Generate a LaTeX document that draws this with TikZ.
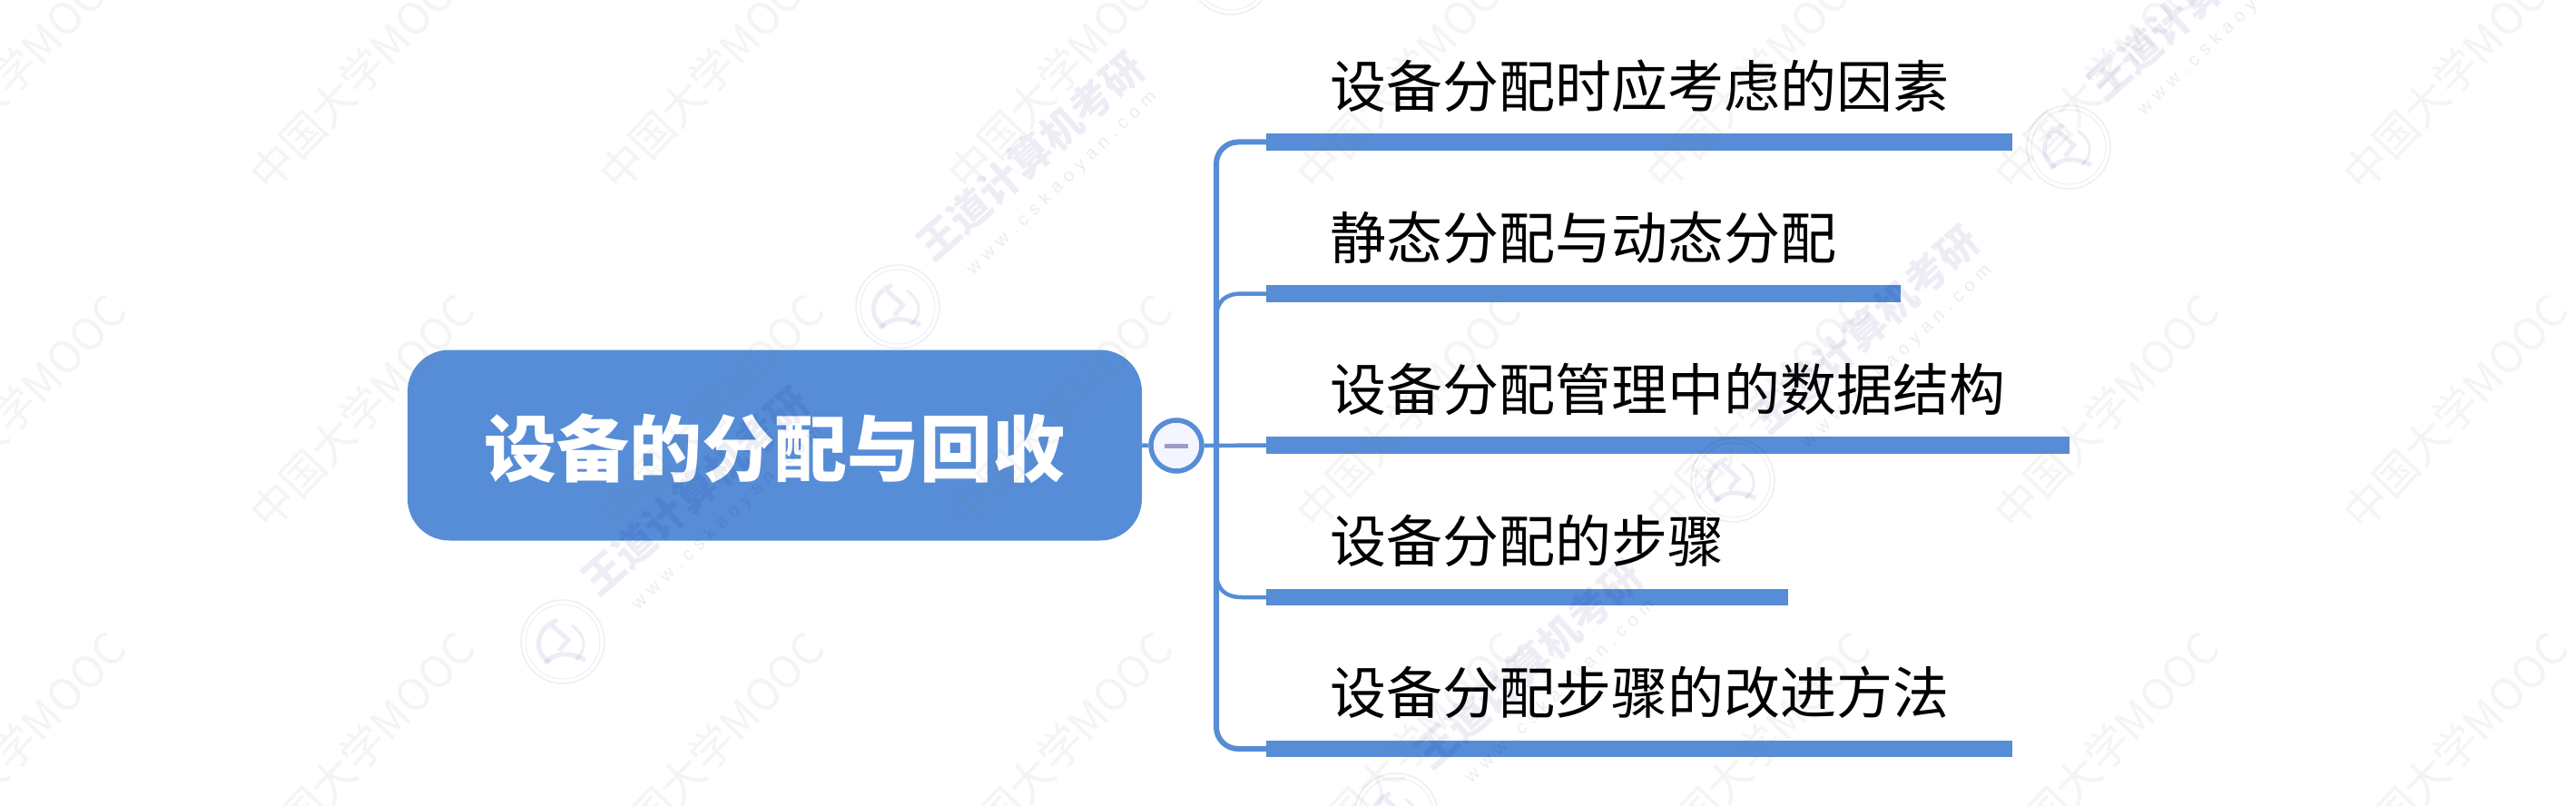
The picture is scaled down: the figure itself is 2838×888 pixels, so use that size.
\documentclass[tikz,border=0pt]{standalone}
\usepackage{fontspec}
\setmainfont{Noto Sans CJK SC}
\newfontfamily\wmlatin{Liberation Sans}
\usetikzlibrary{calc}
\definecolor{mapblue}{HTML}{568DD6}
\tikzset{
  x=1pt,y=-1pt,
  rootbox/.style={fill=mapblue,rounded corners=46pt,minimum width=809pt,minimum height=210pt,inner sep=0pt},
  rootlabel/.style={inner sep=0pt,text=white,font=\fontsize{80pt}{80pt}\selectfont\bfseries},
  topiclabel/.style={anchor=west,inner sep=0pt,text=black,font=\fontsize{62pt}{62pt}\selectfont},
  topicbar/.style={anchor=west,fill=mapblue,minimum height=18.5pt,inner sep=0pt},
  link/.style={draw=mapblue,line width=4.5pt},
  trunkline/.style={draw=mapblue,line width=6pt,rounded corners=24pt},
  collapser/.style={circle,draw=mapblue,line width=5.5pt,fill=white!96!blue,minimum size=56pt,inner sep=0pt},
  minusbar/.style={draw=blue!30!gray!60!white,line width=5pt},
  moocmark/.style={rotate=46.5,inner sep=0pt,text=gray,opacity=.085,font=\fontsize{48pt}{48pt}\selectfont},
  brandmark/.style={rotate=41.7,inner sep=0pt,text=blue!50!black,opacity=.07,font=\fontsize{45pt}{45pt}\selectfont\bfseries},
  urlmark/.style={rotate=44,inner sep=0pt,text=blue!50!black,opacity=.08,font=\fontsize{20pt}{20pt}\selectfont\wmlatin},
  sealline/.style={draw=blue!50!black,draw opacity=.07},
}
\begin{document}
\begin{tikzpicture}
\useasboundingbox (0,0) rectangle (2838,888);
\fill[white] (0,0) rectangle (2838,888);

% root and collapse control
\node[rootbox] (root) at (853.5,490.5) {};
\node[rootlabel] (rootname) at (853.5,494) {设备的分配与回收};
\node[collapser] (fold) at (1296,491) {};

% bars
\node[topicbar,minimum width=822pt] (b1) at (1395,156.5) {};
\node[topicbar,minimum width=699pt] (b2) at (1395,323.5) {};
\node[topicbar,minimum width=885pt] (b3) at (1395,490.5) {};
\node[topicbar,minimum width=575pt] (b4) at (1395,658) {};
\node[topicbar,minimum width=822pt] (b5) at (1395,825) {};

% labels
\node[topiclabel] (t1) at (1465,95) {设备分配时应考虑的因素};
\node[topiclabel] (t2) at (1465,262) {静态分配与动态分配};
\node[topiclabel] (t3) at (1465,429) {设备分配管理中的数据结构};
\node[topiclabel] (t4) at (1465,596) {设备分配的步骤};
\node[topiclabel] (t5) at (1465,763) {设备分配步骤的改进方法};

% connectors
\coordinate (tr) at (1340,491);
\coordinate (s2) at (1340,350);
\coordinate (s4) at (1340,631);
\draw[trunkline] (b1.west) -| (tr) |- (b5.west);
\draw[link] (root.east) -- (fold.west);
\draw[link] (fold.east) -- (b3.west);
\draw[link] (s2) .. controls (1340,332) and (1350,323.5) .. (1368,323.5) -- (b2.west);
\draw[link] (s4) .. controls (1340,649) and (1350,658) .. (1368,658) -- (b4.west);
\draw[minusbar] ($(fold.center)+(-13,0)$) -- ($(fold.center)+(13,0)$);

% watermark
\begin{scope}
\clip (0,0) rectangle (2838,888);
\foreach \r/\yy in {0/80,1/453,2/825}{
  \foreach \c in {-1,0,1,2,3,4,5,6,7}{
    \node[moocmark] (mooc\r\c) at ({399+384.3*\c},\yy) {中国大学MOOC};
  }
}
\foreach \n/\lx/\ly in {a/1356/-30,b/989/338,c/620/707,d/2279/162,e/1909/529,f/1538/898}{
  \coordinate (seal\n) at (\lx,\ly);
  \node[brandmark] (brand\n) at ($(seal\n)+(146,-166)$) {王道计算机考研};
  \node[urlmark] (url\n) at ($(seal\n)+(181,-136)$) {w\hspace{7pt}w\hspace{7pt}w\hspace{7pt}.\hspace{7pt}c\hspace{7pt}s\hspace{7pt}k\hspace{7pt}a\hspace{7pt}o\hspace{7pt}y\hspace{7pt}a\hspace{7pt}n\hspace{7pt}.\hspace{7pt}c\hspace{7pt}o\hspace{7pt}m};
  \draw[sealline,line width=1.5pt] (seal\n) circle[radius=46];
  \draw[sealline,line width=1pt] (seal\n) circle[radius=41];
  \draw[sealline,line width=5pt] ($(seal\n)+(-6,-24)$) .. controls ($(seal\n)+(-32,-14)$) and ($(seal\n)+(-32,14)$) .. ($(seal\n)+(-14,22)$);
  \draw[sealline,line width=5pt] ($(seal\n)+(-20,24)$) .. controls ($(seal\n)+(-5,8)$) and ($(seal\n)+(12,14)$) .. ($(seal\n)+(25,20)$);
  \draw[sealline,line width=5pt] ($(seal\n)+(-12,-18)$) -- ($(seal\n)+(6,-2)$) -- ($(seal\n)+(-4,10)$);
  \draw[sealline,line width=3pt] ($(seal\n)+(10,-18)$) .. controls ($(seal\n)+(28,-5)$) and ($(seal\n)+(26,10)$) .. ($(seal\n)+(14,20)$);
}
\end{scope}
\end{tikzpicture}
\end{document}
